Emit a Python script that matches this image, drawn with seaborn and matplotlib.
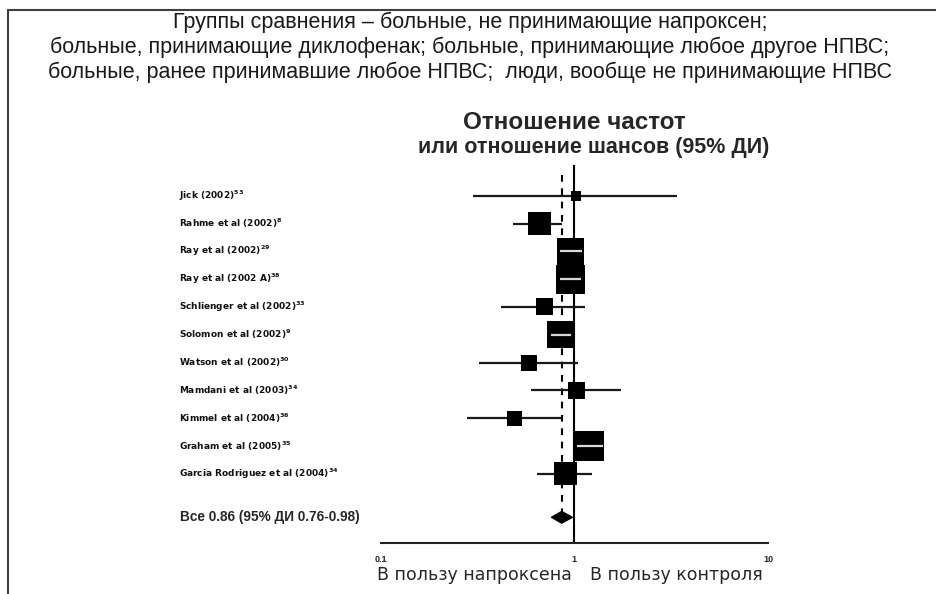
import numpy as np
import pandas as pd
import matplotlib
matplotlib.use("Agg")
import matplotlib.pyplot as plt
import matplotlib.transforms as mtransforms
from matplotlib.lines import Line2D
from matplotlib.patches import Polygon
import seaborn as sns

# ---- data -------------------------------------------------------------
studies = [
    "Jick (2002)", "Rahme et al (2002)", "Ray et al (2002)", "Ray et al (2002 A)",
    "Schlienger et al (2002)", "Solomon et al (2002)", "Watson et al (2002)",
    "Mamdani et al (2003)", "Kimmel et al (2004)", "Graham et al (2005)",
    "Garcia Rodriguez et al (2004)",
]
refs = ["53", "8", "29", "38", "33", "9", "30", "34", "36", "35", "34"]
odds_ratio = [1.02, 0.66, 0.96, 0.95, 0.70, 0.85, 0.58, 1.02, 0.49, 1.19, 0.90]
ci_low = [0.30, 0.48, 0.84, 0.84, 0.42, 0.76, 0.32, 0.60, 0.28, 1.03, 0.64]
ci_high = [3.38, 0.86, 1.10, 1.08, 1.13, 0.96, 1.05, 1.74, 0.86, 1.40, 1.24]
study_weight = [10, 23, 27, 29, 17, 27, 16, 17, 15, 30, 23]

pooled_or, pooled_low, pooled_high = 0.86, 0.76, 0.98
pooled_label = "Все 0.86 (95% ДИ 0.76-0.98)"

tick_values = [0.1, 1, 10]
tick_labels = ["0.1", "1", "10"]

header_lines = [
    "Группы сравнения – больные, не принимающие напроксен;",
    "больные, принимающие диклофенак; больные, принимающие любое другое НПВС;",
    "больные, ранее принимавшие любое НПВС;  люди, вообще не принимающие НПВС",
]
title_lines = ["Отношение частот", "или отношение шансов (95% ДИ)"]
favours_left = "В пользу напроксена"
favours_right = "В пользу контроля"

# ---- figure -----------------------------------------------------------
sns.set_style("white")
plt.rcParams["font.family"] = ["Liberation Sans", "DejaVu Sans"]
plt.rcParams["mathtext.default"] = "regular"

W, H = 936, 594
fig = plt.figure(figsize=(W / 100, H / 100), dpi=100)

def fx(px):
    return px / W

def fy(py):
    return 1 - py / H

ax_left, ax_right, ax_top, ax_bottom = 380.7, 768.0, 165.0, 543.0
ax = fig.add_axes([fx(ax_left), fy(ax_bottom), fx(ax_right - ax_left),
                   (ax_bottom - ax_top) / H])
ax.set_xscale("log")
ax.set_xlim(0.1, 10)
row_step = 27.8
ax.set_ylim((ax_bottom - 195.7) / row_step, (ax_top - 195.7) / row_step)

df = pd.DataFrame({
    "study": studies, "or": odds_ratio, "lo": ci_low, "hi": ci_high,
    "w": study_weight,
})
df["row"] = np.arange(len(df))
pooled_row = (517.3 - 195.7) / row_step

decade_px = (ax_right - ax_left) / 2.0
# box side in pixels -> marker side in points
box_pt = df["w"] * 0.72
half_dec = (df["w"] / 2) / decade_px
inside = (np.log10(df["or"]) - np.log10(df["lo"]) <= half_dec) & \
         (np.log10(df["hi"]) - np.log10(df["or"]) <= half_dec)

# reference lines
ax.axvline(1, color="black", lw=1.5, zorder=1)
ax.plot([pooled_or, pooled_or], [-0.75, pooled_row - 0.1], color="black",
        lw=1.5, dashes=(3.2, 3.2), zorder=1)

# confidence intervals
outside = df[~inside]
ax.hlines(outside["row"], outside["lo"], outside["hi"], color="#1a1a1a",
          lw=1.6, zorder=2)

# study boxes
sns.scatterplot(data=df, x="or", y="row", marker="s", s=box_pt ** 2,
                color="black", linewidth=0, ax=ax, zorder=3, legend=False)

# intervals that sit inside their box
inner = df[inside]
ax.hlines(inner["row"], inner["lo"], inner["hi"], color="#d9d9d9",
          lw=1.6, zorder=4)

# pooled estimate diamond
dh = 6.0 / row_step
diamond = Polygon([[pooled_low, pooled_row], [pooled_or, pooled_row - dh],
                   [pooled_high, pooled_row], [pooled_or, pooled_row + dh]],
                  closed=True, facecolor="black", edgecolor="black", lw=0.8,
                  zorder=4)
ax.add_patch(diamond)

# axis styling
for side in ["top", "right", "left"]:
    ax.spines[side].set_visible(False)
ax.spines["bottom"].set_color("#222222")
ax.spines["bottom"].set_linewidth(1.5)
ax.set_yticks([])
ax.set_xticks(tick_values)
ax.set_xticklabels(tick_labels, fontsize=6.5, fontweight="bold")
ax.minorticks_off()
ax.tick_params(axis="x", direction="out", length=6.5, width=1.5,
               color="#222222", pad=2)
ax.set_xlabel("")
ax.set_ylabel("")

# study labels
lab_tr = mtransforms.blended_transform_factory(fig.transFigure, ax.transData)
for i, (name, ref) in enumerate(zip(studies, refs)):
    ax.text(fx(179), i, f"{name}$^{{{ref}}}$", transform=lab_tr,
            fontsize=6.5, fontweight="bold",
            family=["Liberation Sans Narrow", "DejaVu Sans"],
            ha="left", va="center", clip_on=False, color="#111111")
ax.text(fx(180.5), pooled_row, pooled_label, transform=lab_tr, fontsize=9.8,
        fontweight="bold", ha="left", va="center", clip_on=False)

# titles
fig.text(fx(574), fy(122), title_lines[0], fontsize=17.5, fontweight="bold",
         ha="center", va="center")
fig.text(fx(594), fy(148), title_lines[1], fontsize=15.5, fontweight="bold",
         ha="center", va="center")

for yy, line in zip([22, 47, 72], header_lines):
    fig.text(fx(470), fy(yy), line, fontsize=15.5, ha="center", va="center",
             color="#1a1a1a")

fig.text(fx(572), fy(575), favours_left, fontsize=12.5, ha="right",
         va="center", family=["DejaVu Sans"])
fig.text(fx(590), fy(575), favours_right, fontsize=12.5, ha="left",
         va="center", family=["DejaVu Sans"])

# frame around the panel
fig.add_artist(Line2D([fx(8), fx(936)], [fy(10), fy(10)], color="#404040",
                      lw=1.5, transform=fig.transFigure))
fig.add_artist(Line2D([fx(8), fx(8)], [fy(10), fy(594)], color="#404040",
                      lw=1.5, transform=fig.transFigure))

fig.savefig("out.png", dpi=100)
